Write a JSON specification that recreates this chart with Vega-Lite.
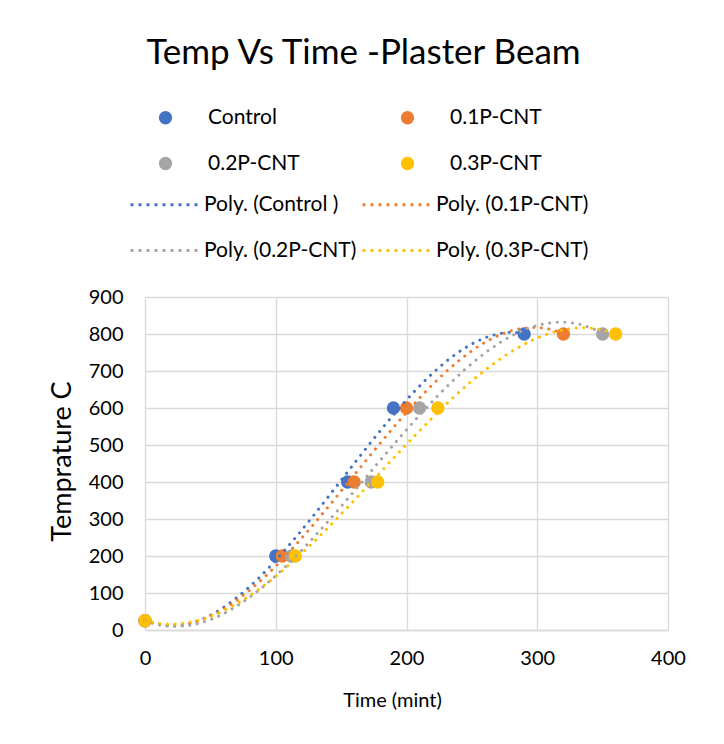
{
  "$schema": "https://vega.github.io/schema/vega-lite/v6.json",
  "width": 523,
  "height": 333,
  "autosize": {"type": "none"},
  "padding": {"left": 145, "top": 297, "right": 56, "bottom": 114},
  "background": "white",
  "title": {
    "text": "Temp Vs Time -Plaster Beam",
    "frame": "group",
    "anchor": "middle",
    "dx": -43,
    "offset": 8,
    "baseline": "alphabetic",
    "font": "Lato",
    "fontSize": 35,
    "fontWeight": "normal",
    "color": "black"
  },
  "config": {
    "view": {"stroke": null},
    "font": "Lato",
    "legend": {"labelFont": "Lato", "labelFontSize": 21, "labelColor": "black", "padding": 0, "titleFontSize": 0},
    "axis": {
      "labelFont": "Lato", "labelFontSize": 20, "labelColor": "black",
      "titleFont": "Lato", "titleFontSize": 20, "titleFontWeight": "normal", "titleColor": "black",
      "gridColor": "#d9d9d9", "gridWidth": 1.3, "ticks": false, "labelOverlap": false, "labelFlush": false
    }
  },
  "data": {
    "values": [
      {"series": "Control", "trend": "Poly. (Control )", "time": 0, "temp": 25},
      {"series": "Control", "trend": "Poly. (Control )", "time": 100, "temp": 200},
      {"series": "Control", "trend": "Poly. (Control )", "time": 155, "temp": 400},
      {"series": "Control", "trend": "Poly. (Control )", "time": 190, "temp": 600},
      {"series": "Control", "trend": "Poly. (Control )", "time": 290, "temp": 800},
      {"series": "0.1P-CNT", "trend": "Poly. (0.1P-CNT)", "time": 0, "temp": 25},
      {"series": "0.1P-CNT", "trend": "Poly. (0.1P-CNT)", "time": 105, "temp": 200},
      {"series": "0.1P-CNT", "trend": "Poly. (0.1P-CNT)", "time": 160, "temp": 400},
      {"series": "0.1P-CNT", "trend": "Poly. (0.1P-CNT)", "time": 200, "temp": 600},
      {"series": "0.1P-CNT", "trend": "Poly. (0.1P-CNT)", "time": 320, "temp": 800},
      {"series": "0.2P-CNT", "trend": "Poly. (0.2P-CNT)", "time": 0, "temp": 25},
      {"series": "0.2P-CNT", "trend": "Poly. (0.2P-CNT)", "time": 112, "temp": 200},
      {"series": "0.2P-CNT", "trend": "Poly. (0.2P-CNT)", "time": 173, "temp": 400},
      {"series": "0.2P-CNT", "trend": "Poly. (0.2P-CNT)", "time": 210, "temp": 600},
      {"series": "0.2P-CNT", "trend": "Poly. (0.2P-CNT)", "time": 350, "temp": 800},
      {"series": "0.3P-CNT", "trend": "Poly. (0.3P-CNT)", "time": 0, "temp": 25},
      {"series": "0.3P-CNT", "trend": "Poly. (0.3P-CNT)", "time": 115, "temp": 200},
      {"series": "0.3P-CNT", "trend": "Poly. (0.3P-CNT)", "time": 178, "temp": 400},
      {"series": "0.3P-CNT", "trend": "Poly. (0.3P-CNT)", "time": 224, "temp": 600},
      {"series": "0.3P-CNT", "trend": "Poly. (0.3P-CNT)", "time": 360, "temp": 800}
    ]
  },
  "encoding": {
    "x": {
      "field": "time", "type": "quantitative",
      "scale": {"domain": [0, 400], "nice": false, "zero": false},
      "axis": {
        "values": [0, 100, 200, 300, 400], "title": "Time (mint)",
        "domain": true, "domainColor": "#d9d9d9", "domainWidth": 1.3,
        "labelPadding": 18, "titleX": 247, "titleY": 70, "titleBaseline": "middle", "titleAnchor": null
      }
    },
    "y": {
      "field": "temp", "type": "quantitative",
      "scale": {"domain": [0, 900], "nice": false},
      "axis": {
        "values": [0, 100, 200, 300, 400, 500, 600, 700, 800, 900], "title": "Temprature C",
        "titleFontSize": 27,
        "domain": false, "labelPadding": 22, "titleX": -83, "titleY": 164, "titleBaseline": "middle", "titleAngle": -90
      }
    }
  },
  "layer": [
    {
      "mark": {"type": "point", "filled": true, "opacity": 1, "size": 177},
      "encoding": {
        "fill": {
          "field": "series", "type": "nominal",
          "scale": {"domain": ["Control", "0.1P-CNT", "0.2P-CNT", "0.3P-CNT"], "range": ["#4472C4", "#ED7D31", "#A5A5A5", "#FFC000"]},
          "legend": {
            "orient": "none", "direction": "horizontal", "legendX": 10, "legendY": -190, "columns": 2, "title": null,
            "symbolType": "circle", "symbolSize": 177, "labelOffset": 32, "columnPadding": 97, "rowPadding": 24
          }
        }
      }
    },
    {
      "transform": [
        {"regression": "temp", "on": "time", "groupby": ["series", "trend"], "method": "poly", "order": 3}
      ],
      "mark": {"type": "line", "strokeWidth": 3, "strokeDash": [0.1, 7.5], "strokeCap": "round"},
      "encoding": {
        "stroke": {
          "field": "trend", "type": "nominal",
          "scale": {"domain": ["Poly. (Control )", "Poly. (0.1P-CNT)", "Poly. (0.2P-CNT)", "Poly. (0.3P-CNT)"], "range": ["#4472C4", "#ED7D31", "#A5A5A5", "#FFC000"]},
          "legend": {
            "orient": "none", "direction": "horizontal", "legendX": -16, "legendY": -128, "columns": 2, "title": null,
            "symbolType": "stroke", "symbolSize": 4624, "symbolStrokeWidth": 3, "symbolDash": [3, 5],
            "labelOffset": 4, "columnPadding": -1, "rowPadding": 0
          }
        }
      }
    }
  ]
}
